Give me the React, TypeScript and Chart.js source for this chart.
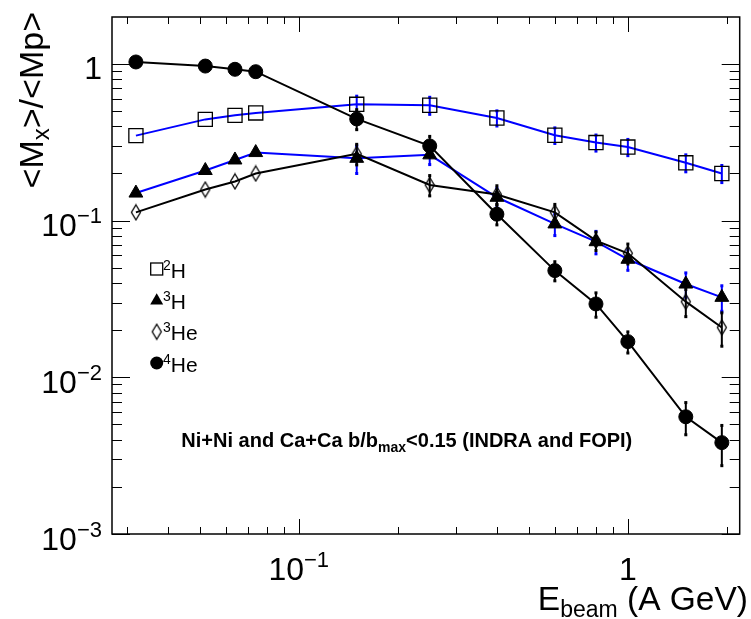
import React, { useEffect, useRef } from "react";
import { Chart, registerables } from "chart.js";

Chart.register(...registerables);

// ---- data ----
const energies = [0.032, 0.052, 0.064, 0.074, 0.15, 0.25, 0.4, 0.6, 0.8, 1.0, 1.5, 1.93];

const h2 = [0.349, 0.443, 0.47, 0.487, 0.553, 0.545, 0.452, 0.351, 0.315, 0.295, 0.234, 0.2];
const h2Err = [0, 0, 0, 0, 0.07, 0.068, 0.05, 0.04, 0.037, 0.035, 0.029, 0.025];

const h3 = [0.15, 0.209, 0.244, 0.272, 0.25, 0.263, 0.141, 0.0953, 0.0734, 0.0567, 0.0394, 0.0324];
const h3Err = [0, 0, 0, 0, 0.05, 0.035, 0.02, 0.015, 0.012, 0.0085, 0.007, 0.006];

const he3 = [0.113, 0.158, 0.178, 0.2, 0.267, 0.169, 0.147, 0.113, 0.0745, 0.0619, 0.0304, 0.0208];
const he3Err = [0, 0, 0, 0, 0.04, 0.025, 0.02, 0.014, 0.01, 0.009, 0.006, 0.005];

const he4 = [1.03, 0.97, 0.925, 0.893, 0.446, 0.3, 0.11, 0.048, 0.0294, 0.0169, 0.0056, 0.00383];
const he4Err = [0, 0, 0, 0, 0.065, 0.045, 0.016, 0.0067, 0.0052, 0.0026, 0.0013, 0.0011];

const xMin = 0.02707;
const xMax = 2.187;
const yMin = 0.001;
const yMax = 1.995;

const xTickValues = [0.1, 1];
const xTickExponents = ["-1", ""];
const yTickValues = [1, 0.1, 0.01, 0.001];
const yTickExponents = ["", "-1", "-2", "-3"];

const legendNames = [
  { sup: "2", base: "H", marker: "square" },
  { sup: "3", base: "H", marker: "triangle" },
  { sup: "3", base: "He", marker: "diamond" },
  { sup: "4", base: "He", marker: "circle" },
];

const BLUE = "#0000ff";
const BLACK = "#000000";
const FONT = "'Liberation Sans', Arial, Helvetica, sans-serif";

type Seg = { t: string; size: number; dy: number; bold?: boolean };

function drawRich(
  ctx: CanvasRenderingContext2D,
  segs: Seg[],
  x: number,
  y: number,
  align: "left" | "right" | "center"
) {
  const widths: number[] = [];
  let total = 0;
  for (const s of segs) {
    ctx.font = `${s.bold ? "bold " : ""}${s.size}px ${FONT}`;
    const w = ctx.measureText(s.t).width;
    widths.push(w);
    total += w;
  }
  let cx = align === "left" ? x : align === "right" ? x - total : x - total / 2;
  ctx.textAlign = "left";
  ctx.textBaseline = "alphabetic";
  segs.forEach((s, i) => {
    ctx.font = `${s.bold ? "bold " : ""}${s.size}px ${FONT}`;
    ctx.fillText(s.t, cx, y + s.dy);
    cx += widths[i];
  });
  return total;
}

function makeDiamond(): HTMLCanvasElement {
  const c = document.createElement("canvas");
  c.width = 12;
  c.height = 18;
  const g = c.getContext("2d")!;
  g.strokeStyle = BLACK;
  g.lineWidth = 1.3;
  g.beginPath();
  g.moveTo(6, 1.5);
  g.lineTo(10.5, 9);
  g.lineTo(6, 16.5);
  g.lineTo(1.5, 9);
  g.closePath();
  g.stroke();
  return c;
}

function drawMarker(ctx: CanvasRenderingContext2D, kind: string, x: number, y: number, diamond: HTMLCanvasElement) {
  ctx.save();
  ctx.strokeStyle = BLACK;
  ctx.fillStyle = BLACK;
  ctx.lineWidth = 1.3;
  if (kind === "square") {
    ctx.strokeRect(x - 6, y - 6, 12, 12);
  } else if (kind === "triangle") {
    const r = 7.5;
    ctx.beginPath();
    ctx.moveTo(x, y - r);
    ctx.lineTo(x + r * 0.866, y + r * 0.5);
    ctx.lineTo(x - r * 0.866, y + r * 0.5);
    ctx.closePath();
    ctx.fill();
  } else if (kind === "diamond") {
    ctx.drawImage(diamond, x - diamond.width / 2, y - diamond.height / 2);
  } else {
    ctx.beginPath();
    ctx.arc(x, y, 6.5, 0, Math.PI * 2);
    ctx.fill();
  }
  ctx.restore();
}

export default function App() {
  const ref = useRef<HTMLCanvasElement | null>(null);

  useEffect(() => {
    const canvas = ref.current;
    if (!canvas) return;
    const diamond = makeDiamond();

    const errorSeries = [
      { vals: h2, errs: h2Err, color: BLUE },
      { vals: h3, errs: h3Err, color: BLUE },
      { vals: he3, errs: he3Err, color: BLACK },
      { vals: he4, errs: he4Err, color: BLACK },
    ];

    const rootPlugin = {
      id: "rootStyle",
      beforeDatasetsDraw(chart: any) {
        const ctx: CanvasRenderingContext2D = chart.ctx;
        const xs = chart.scales.x;
        const ys = chart.scales.y;
        ctx.save();
        for (const s of errorSeries) {
          ctx.strokeStyle = s.color;
          ctx.fillStyle = s.color;
          ctx.lineWidth = 2;
          s.vals.forEach((v, i) => {
            const e = s.errs[i];
            if (!e) return;
            const px = xs.getPixelForValue(energies[i]);
            const pt = ys.getPixelForValue(v + e);
            const pb = ys.getPixelForValue(Math.max(v - e, 1e-5));
            ctx.beginPath();
            ctx.moveTo(px, pt);
            ctx.lineTo(px, pb);
            ctx.stroke();
            ctx.fillRect(px - 1.5, pt - 1.5, 3, 3);
            ctx.fillRect(px - 1.5, pb - 1.5, 3, 3);
          });
        }
        ctx.restore();
      },
      afterDraw(chart: any) {
        const ctx: CanvasRenderingContext2D = chart.ctx;
        const { left, right, top, bottom } = chart.chartArea;
        const xs = chart.scales.x;
        const ys = chart.scales.y;
        ctx.save();
        // frame
        ctx.strokeStyle = BLACK;
        ctx.lineWidth = 1.5;
        ctx.strokeRect(left, top, right - left, bottom - top);

        // ticks
        ctx.lineWidth = 1;
        ctx.beginPath();
        for (let d = -4; d <= 1; d++) {
          for (let k = 1; k <= 9; k++) {
            const v = k * Math.pow(10, d);
            if (v >= yMin * 0.999 && v <= yMax * 1.001) {
              const py = Math.round(ys.getPixelForValue(v)) + 0.5;
              const len = k === 1 ? 18 : 10;
              ctx.moveTo(left, py);
              ctx.lineTo(left + len, py);
              ctx.moveTo(right, py);
              ctx.lineTo(right - len, py);
            }
            if (v >= xMin * 0.999 && v <= xMax * 1.001) {
              const px = Math.round(xs.getPixelForValue(v)) + 0.5;
              const len = k === 1 ? 15 : 7;
              ctx.moveTo(px, bottom);
              ctx.lineTo(px, bottom - len);
              ctx.moveTo(px, top);
              ctx.lineTo(px, top + len);
            }
          }
        }
        ctx.stroke();

        ctx.fillStyle = BLACK;
        // y tick labels
        yTickValues.forEach((v, i) => {
          const py = ys.getPixelForValue(v);
          const exp = yTickExponents[i];
          const segs: Seg[] = exp
            ? [
                { t: "10", size: 32, dy: 0 },
                { t: exp.replace("-", "\u2212"), size: 22, dy: -13 },
              ]
            : [{ t: "1", size: 32, dy: 0 }];
          drawRich(ctx, segs, 102, py + 15.5, "right");
        });
        // x tick labels
        xTickValues.forEach((v, i) => {
          const px = xs.getPixelForValue(v);
          const exp = xTickExponents[i];
          const segs: Seg[] = exp
            ? [
                { t: "10", size: 32, dy: 0 },
                { t: exp.replace("-", "\u2212"), size: 22, dy: -13 },
              ]
            : [{ t: "1", size: 32, dy: 0 }];
          drawRich(ctx, segs, px, 580, "center");
        });

        // x title
        drawRich(
          ctx,
          [
            { t: "E", size: 33.5, dy: 0 },
            { t: "beam", size: 23, dy: 7 },
            { t: " (A GeV)", size: 33.5, dy: 0 },
          ],
          748,
          610,
          "right"
        );

        // y title (rotated)
        ctx.save();
        ctx.translate(43, 12);
        ctx.rotate(-Math.PI / 2);
        drawRich(
          ctx,
          [
            { t: "<M", size: 34, dy: 0 },
            { t: "x", size: 24, dy: 6 },
            { t: ">/<Mp>", size: 34, dy: 0 },
          ],
          0,
          0,
          "right"
        );
        ctx.restore();

        // legend
        const rowsY = [269, 300.7, 331.7, 363];
        legendNames.forEach((L, i) => {
          const y = rowsY[i];
          drawMarker(ctx, L.marker, 156.7, y, diamond);
          drawRich(
            ctx,
            [
              { t: L.sup, size: 14, dy: -8 },
              { t: L.base, size: 21, dy: 0 },
            ],
            163,
            y + 8.5,
            "left"
          );
        });

        // annotation text
        drawRich(
          ctx,
          [
            { t: "Ni+Ni and Ca+Ca b/b", size: 20, dy: 0, bold: true },
            { t: "max", size: 14, dy: 5, bold: true },
            { t: "<0.15 (INDRA and FOPI)", size: 20, dy: 0, bold: true },
          ],
          406.8,
          446.7,
          "center"
        );
        ctx.restore();
      },
    };

    const mk = (data: number[]) => energies.map((x, i) => ({ x, y: data[i] }));

    const chart = new Chart(canvas, {
      type: "line",
      data: {
        datasets: [
          {
            label: "4He",
            data: mk(he4),
            borderColor: BLACK,
            borderWidth: 2,
            pointStyle: "circle",
            pointRadius: 7,
            pointBackgroundColor: BLACK,
            pointBorderColor: BLACK,
            pointBorderWidth: 1,
            tension: 0,
          },
          {
            label: "3He",
            data: mk(he3),
            borderColor: BLACK,
            borderWidth: 2,
            pointStyle: diamond as any,
            pointRadius: 7,
            pointBackgroundColor: "rgba(0,0,0,0)",
            pointBorderColor: BLACK,
            tension: 0,
          },
          {
            label: "3H",
            data: mk(h3),
            borderColor: BLUE,
            borderWidth: 2,
            pointStyle: "triangle",
            pointRadius: 8,
            pointBackgroundColor: BLACK,
            pointBorderColor: BLACK,
            pointBorderWidth: 1,
            tension: 0,
          },
          {
            label: "2H",
            data: mk(h2),
            borderColor: BLUE,
            borderWidth: 2,
            pointStyle: "rect",
            pointRadius: 10,
            pointBackgroundColor: "rgba(0,0,0,0)",
            pointBorderColor: BLACK,
            pointBorderWidth: 1.3,
            tension: 0,
          },
        ],
      },
      options: {
        animation: false,
        responsive: false,
        maintainAspectRatio: false,
        layout: { padding: { left: 112, top: 17, right: 1.7, bottom: 85 } },
        plugins: { legend: { display: false }, tooltip: { enabled: false } },
        scales: {
          x: { type: "logarithmic", min: xMin, max: xMax, display: false },
          y: { type: "logarithmic", min: yMin, max: yMax, display: false },
        },
      },
      plugins: [rootPlugin],
    });

    return () => chart.destroy();
  }, []);

  return (
    <div style={{ position: "absolute", left: 0, top: 0, width: 751, height: 619, background: "#fff" }}>
      <canvas ref={ref} width={751} height={619} style={{ width: 751, height: 619, display: "block" }} />
    </div>
  );
}
